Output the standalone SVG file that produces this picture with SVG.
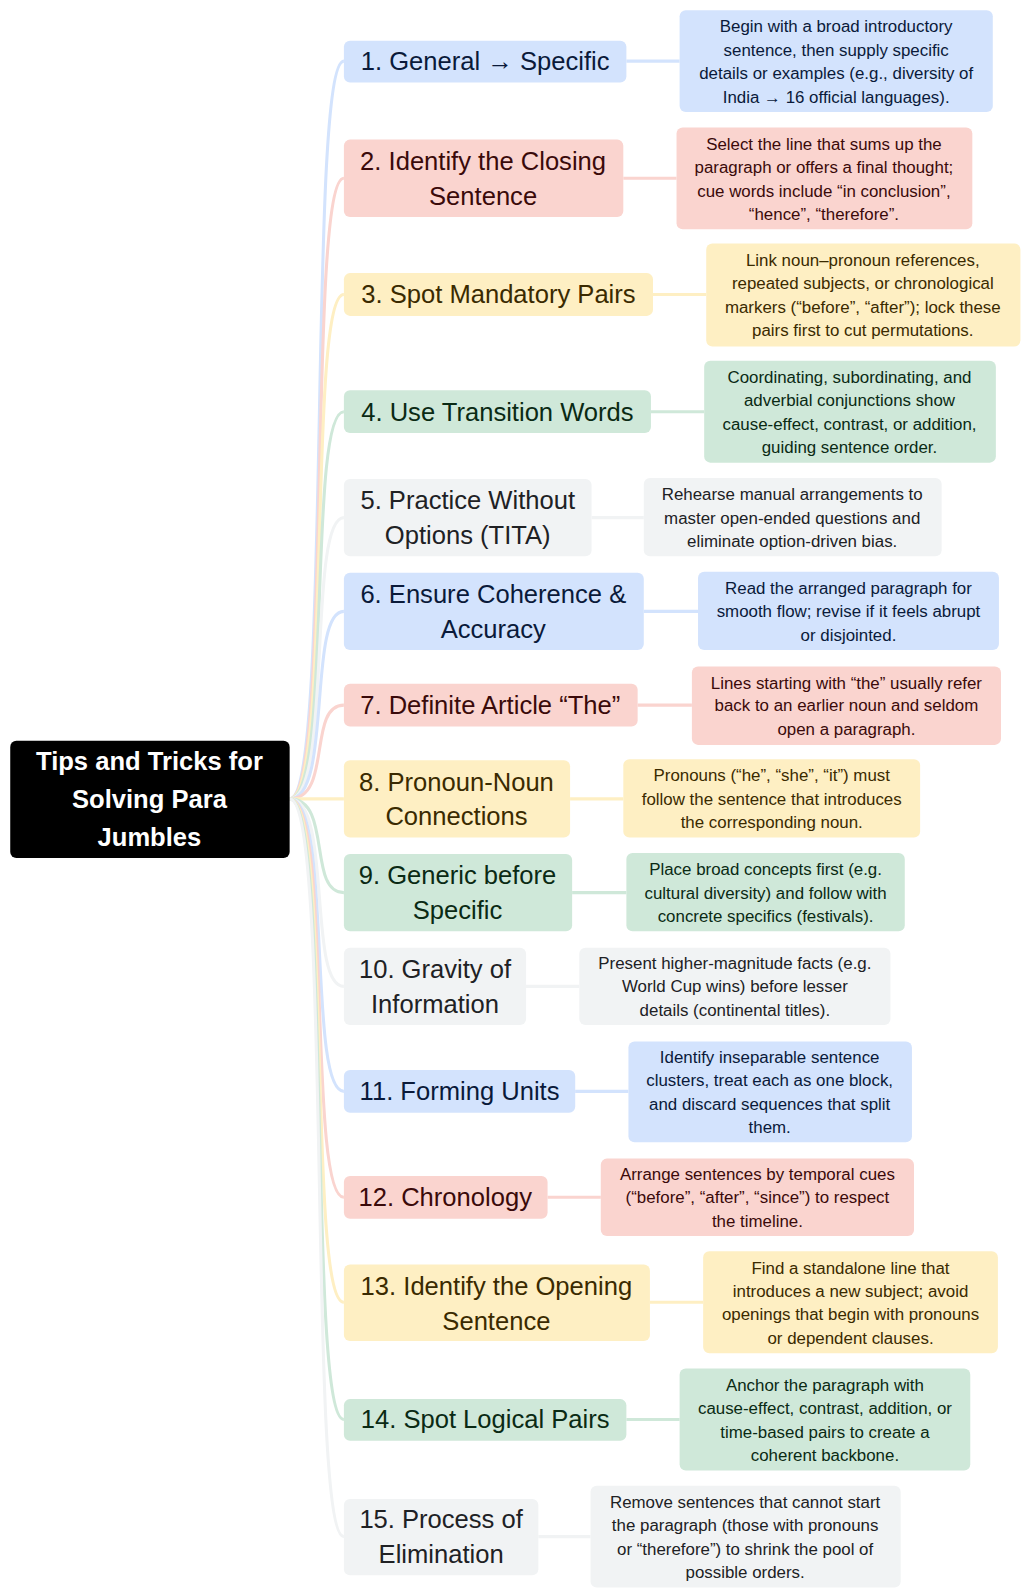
<svg xmlns="http://www.w3.org/2000/svg" width="1024" height="1595" viewBox="0 0 1024 1595">
<style>
.n{font-family:"Liberation Sans",Arial,sans-serif;font-size:25px;text-anchor:middle;dominant-baseline:central}
.d{font-family:"Liberation Sans",Arial,sans-serif;font-size:16.5px;text-anchor:middle;dominant-baseline:central}
.b{fill:#d3e3fd}.r{fill:#fad4cf}.y{fill:#feefc3}.g{fill:#cfe8d9}.s{fill:#f1f3f4}
.bt{fill:#0a1a3a}.rt{fill:#3a0a0a}.yt{fill:#3a2a00}.gt{fill:#0a2a14}.st{fill:#202124}
.c{fill:none;stroke-width:3}
.cb{stroke:#d3e3fd}.cr{stroke:#fad4cf}.cy{stroke:#feefc3}.cg{stroke:#cfe8d9}.cs{stroke:#f1f3f4}
</style>
<rect width="1024" height="1595" fill="#fff"/>
<g transform="scale(1.0235 1.019)">
<g id="connectors">
<path class="c cb" d="M283,784 C325,784 300,60 336,60 M612,60 H664"/>
<path class="c cr" d="M283,784 C325,784 300,175 336,175 M609,175 H661"/>
<path class="c cy" d="M283,784 C325,784 300,289 336,289 M638,289 H690"/>
<path class="c cg" d="M283,784 C325,784 300,404 336,404 M636,404 H688"/>
<path class="c cs" d="M283,784 C325,784 300,508 336,508 M578,508 H629"/>
<path class="c cb" d="M283,784 C325,784 300,600 336,600 M629,600 H682"/>
<path class="c cr" d="M283,784 C325,784 300,692 336,692 M623,692 H676"/>
<path class="c cy" d="M283,784 H336 M557,784 H609"/>
<path class="c cg" d="M283,784 C325,784 300,876 336,876 M559,876 H612"/>
<path class="c cs" d="M283,784 C325,784 300,968 336,968 M514,968 H566"/>
<path class="c cb" d="M283,784 C325,784 300,1071 336,1071 M562,1071 H614"/>
<path class="c cr" d="M283,784 C325,784 300,1175 336,1175 M535,1175 H587"/>
<path class="c cy" d="M283,784 C325,784 300,1278 336,1278 M635,1278 H687"/>
<path class="c cg" d="M283,784 C325,784 300,1393 336,1393 M612,1393 H664"/>
<path class="c cs" d="M283,784 C325,784 300,1508 336,1508 M526,1508 H577"/>
</g>
<g id="root"><rect x="10" y="727" width="273" height="115" rx="6" fill="#000"/>
<text class="n" font-weight="bold" font-size="26" fill="#fff"><tspan x="146" y="747">Tips and Tricks for</tspan><tspan x="146" y="784">Solving Para</tspan><tspan x="146" y="821">Jumbles</tspan></text></g>

<g id="n1"><rect class="b" x="336" y="40" width="276" height="41" rx="6"/><text class="n bt" x="474" y="60">1. General → Specific</text></g>
<g id="d1"><rect class="b" x="664" y="10" width="306" height="100" rx="6"/><text class="d bt"><tspan x="817" y="26">Begin with a broad introductory</tspan><tspan x="817" y="49">sentence, then supply specific</tspan><tspan x="817" y="72">details or examples (e.g., diversity of</tspan><tspan x="817" y="95">India → 16 official languages).</tspan></text></g>

<g id="n2"><rect class="r" x="336" y="137" width="273" height="76" rx="6"/><text class="n rt"><tspan x="472" y="158">2. Identify the Closing</tspan><tspan x="472" y="192">Sentence</tspan></text></g>
<g id="d2"><rect class="r" x="661" y="125" width="289" height="100" rx="6"/><text class="d rt"><tspan x="805" y="141">Select the line that sums up the</tspan><tspan x="805" y="164">paragraph or offers a final thought;</tspan><tspan x="805" y="187">cue words include “in conclusion”,</tspan><tspan x="805" y="210">“hence”, “therefore”.</tspan></text></g>

<g id="n3"><rect class="y" x="336" y="268" width="302" height="42" rx="6"/><text class="n yt" x="487" y="289">3. Spot Mandatory Pairs</text></g>
<g id="d3"><rect class="y" x="690" y="239" width="307" height="101" rx="6"/><text class="d yt"><tspan x="843" y="255">Link noun–pronoun references,</tspan><tspan x="843" y="278">repeated subjects, or chronological</tspan><tspan x="843" y="301">markers (“before”, “after”); lock these</tspan><tspan x="843" y="324">pairs first to cut permutations.</tspan></text></g>

<g id="n4"><rect class="g" x="336" y="383" width="300" height="42" rx="6"/><text class="n gt" x="486" y="404">4. Use Transition Words</text></g>
<g id="d4"><rect class="g" x="688" y="354" width="285" height="100" rx="6"/><text class="d gt"><tspan x="830" y="370">Coordinating, subordinating, and</tspan><tspan x="830" y="393">adverbial conjunctions show</tspan><tspan x="830" y="416">cause-effect, contrast, or addition,</tspan><tspan x="830" y="439">guiding sentence order.</tspan></text></g>

<g id="n5"><rect class="s" x="336" y="470" width="242" height="76" rx="6"/><text class="n st"><tspan x="457" y="491">5. Practice Without</tspan><tspan x="457" y="525">Options (TITA)</tspan></text></g>
<g id="d5"><rect class="s" x="629" y="469" width="291" height="77" rx="6"/><text class="d st"><tspan x="774" y="485">Rehearse manual arrangements to</tspan><tspan x="774" y="508">master open-ended questions and</tspan><tspan x="774" y="531">eliminate option-driven bias.</tspan></text></g>

<g id="n6"><rect class="b" x="336" y="562" width="293" height="76" rx="6"/><text class="n bt"><tspan x="482" y="583">6. Ensure Coherence &amp;</tspan><tspan x="482" y="617">Accuracy</tspan></text></g>
<g id="d6"><rect class="b" x="682" y="561" width="294" height="77" rx="6"/><text class="d bt"><tspan x="829" y="577">Read the arranged paragraph for</tspan><tspan x="829" y="600">smooth flow; revise if it feels abrupt</tspan><tspan x="829" y="623">or disjointed.</tspan></text></g>

<g id="n7"><rect class="r" x="336" y="671" width="287" height="42" rx="6"/><text class="n rt" x="479" y="692">7. Definite Article “The”</text></g>
<g id="d7"><rect class="r" x="676" y="654" width="302" height="77" rx="6"/><text class="d rt"><tspan x="827" y="670">Lines starting with “the” usually refer</tspan><tspan x="827" y="692">back to an earlier noun and seldom</tspan><tspan x="827" y="715">open a paragraph.</tspan></text></g>

<g id="n8"><rect class="y" x="336" y="746" width="221" height="76" rx="6"/><text class="n yt"><tspan x="446" y="767">8. Pronoun-Noun</tspan><tspan x="446" y="801">Connections</tspan></text></g>
<g id="d8"><rect class="y" x="609" y="745" width="290" height="77" rx="6"/><text class="d yt"><tspan x="754" y="761">Pronouns (“he”, “she”, “it”) must</tspan><tspan x="754" y="784">follow the sentence that introduces</tspan><tspan x="754" y="807">the corresponding noun.</tspan></text></g>

<g id="n9"><rect class="g" x="336" y="838" width="223" height="76" rx="6"/><text class="n gt"><tspan x="447" y="859">9. Generic before</tspan><tspan x="447" y="893">Specific</tspan></text></g>
<g id="d9"><rect class="g" x="612" y="837" width="272" height="77" rx="6"/><text class="d gt"><tspan x="748" y="853">Place broad concepts first (e.g.</tspan><tspan x="748" y="876">cultural diversity) and follow with</tspan><tspan x="748" y="899">concrete specifics (festivals).</tspan></text></g>

<g id="n10"><rect class="s" x="336" y="930" width="178" height="76" rx="6"/><text class="n st"><tspan x="425" y="951">10. Gravity of</tspan><tspan x="425" y="985">Information</tspan></text></g>
<g id="d10"><rect class="s" x="566" y="930" width="304" height="76" rx="6"/><text class="d st"><tspan x="718" y="945">Present higher-magnitude facts (e.g.</tspan><tspan x="718" y="968">World Cup wins) before lesser</tspan><tspan x="718" y="991">details (continental titles).</tspan></text></g>

<g id="n11"><rect class="b" x="336" y="1050" width="226" height="42" rx="6"/><text class="n bt" x="449" y="1071">11. Forming Units</text></g>
<g id="d11"><rect class="b" x="614" y="1022" width="277" height="99" rx="6"/><text class="d bt"><tspan x="752" y="1037">Identify inseparable sentence</tspan><tspan x="752" y="1060">clusters, treat each as one block,</tspan><tspan x="752" y="1083">and discard sequences that split</tspan><tspan x="752" y="1106">them.</tspan></text></g>

<g id="n12"><rect class="r" x="336" y="1154" width="199" height="42" rx="6"/><text class="n rt" x="435" y="1175">12. Chronology</text></g>
<g id="d12"><rect class="r" x="587" y="1137" width="306" height="76" rx="6"/><text class="d rt"><tspan x="740" y="1152">Arrange sentences by temporal cues</tspan><tspan x="740" y="1175">(“before”, “after”, “since”) to respect</tspan><tspan x="740" y="1198">the timeline.</tspan></text></g>

<g id="n13"><rect class="y" x="336" y="1241" width="299" height="75" rx="6"/><text class="n yt"><tspan x="485" y="1262">13. Identify the Opening</tspan><tspan x="485" y="1296">Sentence</tspan></text></g>
<g id="d13"><rect class="y" x="687" y="1228" width="288" height="100" rx="6"/><text class="d yt"><tspan x="831" y="1244">Find a standalone line that</tspan><tspan x="831" y="1267">introduces a new subject; avoid</tspan><tspan x="831" y="1290">openings that begin with pronouns</tspan><tspan x="831" y="1313">or dependent clauses.</tspan></text></g>

<g id="n14"><rect class="g" x="336" y="1373" width="276" height="41" rx="6"/><text class="n gt" x="474" y="1393">14. Spot Logical Pairs</text></g>
<g id="d14"><rect class="g" x="664" y="1343" width="284" height="100" rx="6"/><text class="d gt"><tspan x="806" y="1359">Anchor the paragraph with</tspan><tspan x="806" y="1382">cause-effect, contrast, addition, or</tspan><tspan x="806" y="1405">time-based pairs to create a</tspan><tspan x="806" y="1428">coherent backbone.</tspan></text></g>

<g id="n15"><rect class="s" x="336" y="1471" width="190" height="75" rx="6"/><text class="n st"><tspan x="431" y="1491">15. Process of</tspan><tspan x="431" y="1525">Elimination</tspan></text></g>
<g id="d15"><rect class="s" x="577" y="1458" width="303" height="100" rx="6"/><text class="d st"><tspan x="728" y="1474">Remove sentences that cannot start</tspan><tspan x="728" y="1497">the paragraph (those with pronouns</tspan><tspan x="728" y="1520">or “therefore”) to shrink the pool of</tspan><tspan x="728" y="1543">possible orders.</tspan></text></g>
</g>
</svg>
